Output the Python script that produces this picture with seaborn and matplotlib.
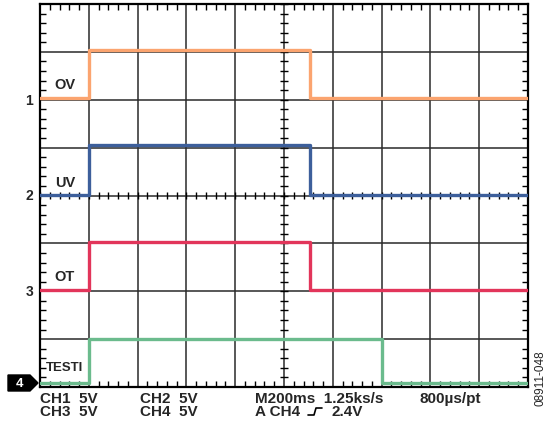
import numpy as np
import pandas as pd
import seaborn as sns
import matplotlib.pyplot as plt
from matplotlib.ticker import MultipleLocator
from matplotlib.lines import Line2D
from matplotlib.patches import Polygon

# scope capture: time in ms (200 ms/div), level in screen divisions
channels = ["OV", "UV", "OT", "TESTI"]
colors = ["#FBA46F", "#3D5F9B", "#E2355A", "#6BBB8D"]
ground_div = [6, 4, 2, 0]          # channel ground markers 1..4
low_level = [6.03, 4.01, 2.02, 0.08]
high_level = [7.04, 5.05, 3.03, 1.00]
rise_ms = [200, 200, 200, 200]
fall_ms = [1106, 1106, 1106, 1400]
end_ms = 2000
label_y = [6.33, 4.28, 2.32, 0.42]

rows = []
for name, lo, hi, r, f in zip(channels, low_level, high_level, rise_ms, fall_ms):
    for t, v in [(0, lo), (r, hi), (f, lo), (end_ms, lo)]:
        rows.append({"time": t, "level": v, "channel": name})
df = pd.DataFrame(rows)

sns.set_style("white")
plt.rcParams["font.family"] = ["Liberation Sans", "DejaVu Sans"]

fig = plt.figure(figsize=(5.56, 4.27), dpi=100)
ax = fig.add_axes([40 / 556, 39 / 427, 488 / 556, 383 / 427])

sns.lineplot(data=df, x="time", y="level", hue="channel", hue_order=channels,
             palette=colors, drawstyle="steps-post", linewidth=2.4,
             legend=False, ax=ax, zorder=3, sort=False, estimator=None)

ax.set_xlim(0, end_ms)
ax.set_ylim(0, 8)
ax.xaxis.set_major_locator(MultipleLocator(200))
ax.yaxis.set_major_locator(MultipleLocator(1))
ax.xaxis.set_minor_locator(MultipleLocator(40))
ax.yaxis.set_minor_locator(MultipleLocator(0.2))
ax.grid(True, which="major", color="#2a2a2a", linewidth=1.1, zorder=1)
ax.tick_params(which="both", direction="in", top=True, right=True,
               bottom=True, left=True, labelbottom=False, labelleft=False,
               color="black")
ax.tick_params(which="major", length=0)
ax.tick_params(which="minor", length=4, width=1)
for s in ax.spines.values():
    s.set_linewidth(1.6)
    s.set_color("black")
ax.set_xlabel("")
ax.set_ylabel("")

# minor ticks along the centre cross-hair
cx = np.arange(0, end_ms + 1, 40)
cy = np.arange(0, 8.01, 0.2)
ax.vlines(cx, 4 - 0.08, 4 + 0.08, color="black", linewidth=1, zorder=2)
ax.hlines(cy, 1000 - 16, 1000 + 16, color="black", linewidth=1, zorder=2)

# trace labels
for name, ly in zip(channels, label_y):
    ax.text(102, ly, name, fontsize=10.5 if name != "TESTI" else 9.5,
            fontweight="bold", ha="center", va="center", zorder=4)

# channel ground markers
trans = ax.get_yaxis_transform()
for i, g in enumerate(ground_div[:3]):
    ax.text(-0.022, g, str(i + 1), transform=trans, fontsize=10,
            fontweight="bold", ha="center", va="center")
# channel 4 marker: black tag with arrow tip (figure pixels)
W, H = 556, 427
tag = np.array([[8, 376], [30, 376], [38, 384], [30, 392], [8, 392]], float)
tag[:, 0] /= W
tag[:, 1] = 1 - tag[:, 1] / H
fig.add_artist(Polygon(tag, closed=True, fc="black", ec="black",
                       transform=fig.transFigure))
fig.text(20 / W, 1 - 384 / H, "4", fontsize=9.5, fontweight="bold",
         color="white", ha="center", va="center")

# scope settings readout
fs = 11
fig.text(40 / W, 1 - 399 / H, "CH1  5V", fontsize=fs, fontweight="bold", va="center")
fig.text(40 / W, 1 - 412 / H, "CH3  5V", fontsize=fs, fontweight="bold", va="center")
fig.text(140 / W, 1 - 399 / H, "CH2  5V", fontsize=fs, fontweight="bold", va="center")
fig.text(140 / W, 1 - 412 / H, "CH4  5V", fontsize=fs, fontweight="bold", va="center")
fig.text(255 / W, 1 - 399 / H, "M200ms  1.25ks/s", fontsize=fs, fontweight="bold", va="center")
fig.text(255 / W, 1 - 412 / H, "A CH4", fontsize=fs, fontweight="bold", va="center")
fig.text(331 / W, 1 - 412 / H, "2.4V", fontsize=fs, fontweight="bold", va="center")
fig.text(420 / W, 1 - 399 / H, "800µs/pt", fontsize=fs, fontweight="bold", va="center")
# rising-edge trigger glyph
sx = np.array([308, 314, 316, 322]) / W
sy = 1 - np.array([416, 416, 409, 409]) / H
fig.add_artist(Line2D(sx, sy, color="black", linewidth=1.2))

fig.text(541 / W, 1 - 378 / H, "08911-048", fontsize=8.5, rotation=90,
         ha="center", va="center")

fig.savefig("out.png", dpi=100)
